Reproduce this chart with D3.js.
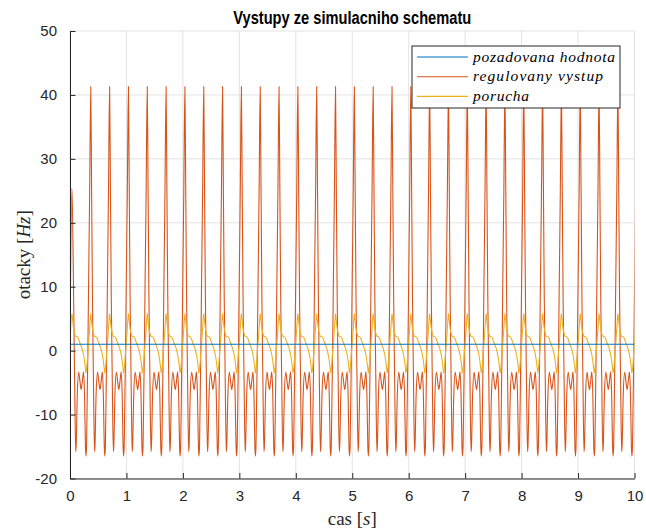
<!DOCTYPE html>
<html>
<head>
<meta charset="utf-8">
<script src="https://cdn.jsdelivr.net/npm/d3@7"></script>
<style>
  body { margin: 0; background: #fff; }
  svg { display: block; }
  .tick text { font-family: "Liberation Sans", Arial, sans-serif; font-size: 15px; fill: #262626; }
</style>
</head>
<body>
<script>
// time axis ticks and value axis ticks
const xTicks = [0, 1, 2, 3, 4, 5, 6, 7, 8, 9, 10];
const yTicks = [-20, -10, 0, 10, 20, 30, 40, 50];

// setpoint (pozadovana hodnota)
const setpointT = [0, 10];
const setpointV = [1, 1];

const redPhase = [0, 0.014, 0.030, 0.048, 0.066, 0.074, 0.094, 0.120, 0.142, 0.163, 0.184, 0.205, 0.223, 0.239, 0.248, 0.259, 0.292, 0.314];
const redCycle = [41.3, 26, 8, -5, -15.8, -15, -7, -3.4, -4.8, -6.1, -4.8, -3.3, -7, -15, -16.5, -15, 8, 25];

const yellowPhase = [0, 0.012, 0.027, 0.044, 0.062, 0.080, 0.097, 0.115, 0.133, 0.151, 0.168, 0.186, 0.204, 0.221, 0.236, 0.248, 0.266, 0.283, 0.301, 0.319];
const yellowCycle = [5.8, 4.8, 3.6, 2.8, 2.3, 2.2, 2.15, 1.9, 1.4, 1.0, 0.6, 0.1, -0.6, -1.5, -2.6, -3.5, -2.2, -0.2, 1.8, 4.2];

// start-up points and cycle timing
const redStart = [[0, 0], [0.0345, 25.4]];
const yellowStart = [[0, 1.0], [0.0345, 5.8]];
const firstPeak = 0.0345;
const period = 0.3335;
const cycles = 31;

const legendLabels = ["pozadovana hodnota", "regulovany vystup", "porucha"];
const colors = ["#0072BD", "#D95319", "#EDB120"];

const W = 646, H = 531;
const plot = { left: 70, right: 634.5, top: 31, bottom: 478.5 };

//Build series from the cycle template
const buildSeries = (start, phase, cycle) => {
  const pts = start.slice();
  for (let k = 0; k < cycles; k++) {
    const t0 = firstPeak + k * period;
    phase.forEach((p, i) => {
      const t = t0 + p;
      if (t > pts[pts.length - 1][0] && !(k === 0 && cycle[i] > start[start.length - 1][1])) {
        pts.push([t, cycle[i]]);
      }
    });
  }
  return pts;
};
const redData = buildSeries(redStart, redPhase, redCycle);
const yellowData = buildSeries(yellowStart, yellowPhase, yellowCycle);
const blueData = setpointT.map((t, i) => [t, setpointV[i]]);

const svg = d3.select("body").append("svg")
  .attr("width", W)
  .attr("height", H);

const x = d3.scaleLinear().domain([0, 10]).range([plot.left, plot.right]);
const y = d3.scaleLinear().domain([-20, 50]).range([plot.bottom, plot.top]);

//Grid
const grid = svg.append("g").attr("class", "grid");
grid.selectAll("line.gx").data(xTicks).enter().append("line")
  .attr("x1", d => x(d)).attr("x2", d => x(d))
  .attr("y1", plot.top).attr("y2", plot.bottom)
  .attr("stroke", "#e3e3e3").attr("stroke-width", 1);
grid.selectAll("line.gy").data(yTicks).enter().append("line")
  .attr("x1", plot.left).attr("x2", plot.right)
  .attr("y1", d => y(d)).attr("y2", d => y(d))
  .attr("stroke", "#e3e3e3").attr("stroke-width", 1);

//Lines
svg.append("clipPath").attr("id", "clip")
  .append("rect")
  .attr("x", plot.left).attr("y", plot.top)
  .attr("width", plot.right - plot.left).attr("height", plot.bottom - plot.top);

const line = d3.line()
  .x(d => x(d[0]))
  .y(d => y(d[1]))
  .curve(d3.curveMonotoneX);

const lines = svg.append("g").attr("clip-path", "url(#clip)");
[[redData, colors[1]], [yellowData, colors[2]], [blueData, colors[0]]].forEach(([data, c]) => {
  lines.append("path")
    .datum(data)
    .attr("d", line)
    .attr("fill", "none")
    .attr("stroke", c)
    .attr("stroke-width", 1.1)
    .attr("stroke-linejoin", "round");
});

//Axes
const fmt = d => String(d); // plain hyphen like the original
const xAxis = d3.axisBottom(x).tickValues(xTicks).tickFormat(fmt).tickSizeInner(-5.5).tickSizeOuter(0).tickPadding(12);
const yAxis = d3.axisLeft(y).tickValues(yTicks).tickFormat(fmt).tickSizeInner(-5.5).tickSizeOuter(0).tickPadding(12);

const gx = svg.append("g")
  .attr("transform", "translate(0," + plot.bottom + ")")
  .call(xAxis);
const gy = svg.append("g")
  .attr("transform", "translate(" + plot.left + ",0)")
  .call(yAxis);
[gx, gy].forEach(g => {
  g.select(".domain").attr("stroke", "#262626");
  g.selectAll(".tick line").attr("stroke", "#262626");
});
gx.selectAll(".tick text").attr("dy", "0.7em");
gy.selectAll(".tick text").attr("dx", "-1");

//Title and axis labels
svg.append("text")
  .attr("x", (plot.left + plot.right) / 2)
  .attr("y", 23.5)
  .attr("text-anchor", "middle")
  .style("font-family", "'Liberation Sans', Arial, sans-serif")
  .style("font-weight", "bold")
  .style("font-size", "18px")
  .attr("textLength", 238)
  .attr("lengthAdjust", "spacingAndGlyphs")
  .attr("fill", "#000")
  .text("Vystupy ze simulacniho schematu");

const xLabel = svg.append("text")
  .attr("x", (plot.left + plot.right) / 2)
  .attr("y", 525)
  .attr("text-anchor", "middle")
  .style("font-family", "'Liberation Serif', 'DejaVu Serif', serif")
  .style("font-size", "19px")
  .attr("fill", "#262626");
xLabel.append("tspan").text("cas [");
xLabel.append("tspan").style("font-style", "italic").text("s");
xLabel.append("tspan").text("]");

const yLabel = svg.append("text")
  .attr("transform", "translate(30," + ((plot.top + plot.bottom) / 2) + ") rotate(-90)")
  .attr("text-anchor", "middle")
  .style("font-family", "'Liberation Serif', 'DejaVu Serif', serif")
  .style("font-size", "19px")
  .attr("fill", "#262626");
yLabel.append("tspan").text("otacky [");
yLabel.append("tspan").style("font-style", "italic").text("Hz");
yLabel.append("tspan").text("]");

//Legend
const legend = svg.append("g").attr("transform", "translate(412,46)");
legend.append("rect")
  .attr("x", 0).attr("y", 0)
  .attr("width", 208).attr("height", 62)
  .attr("fill", "#fff")
  .attr("stroke", "#262626")
  .attr("stroke-width", 1);
const legendWidths = [142, 130, 56];
legendLabels.forEach((label, i) => {
  const ry = 11 + i * 19.7;
  legend.append("line")
    .attr("x1", 5).attr("x2", 56)
    .attr("y1", ry).attr("y2", ry)
    .attr("stroke", colors[i]).attr("stroke-width", 1.1);
  legend.append("text")
    .attr("x", 61).attr("y", ry + 4.5)
    .style("font-family", "'Liberation Serif', 'DejaVu Serif', serif")
    .style("font-style", "italic")
    .style("font-size", "15.5px")
    .attr("textLength", legendWidths[i])
    .attr("lengthAdjust", "spacing")
    .attr("fill", "#000")
    .text(label);
});
</script>
</body>
</html>
